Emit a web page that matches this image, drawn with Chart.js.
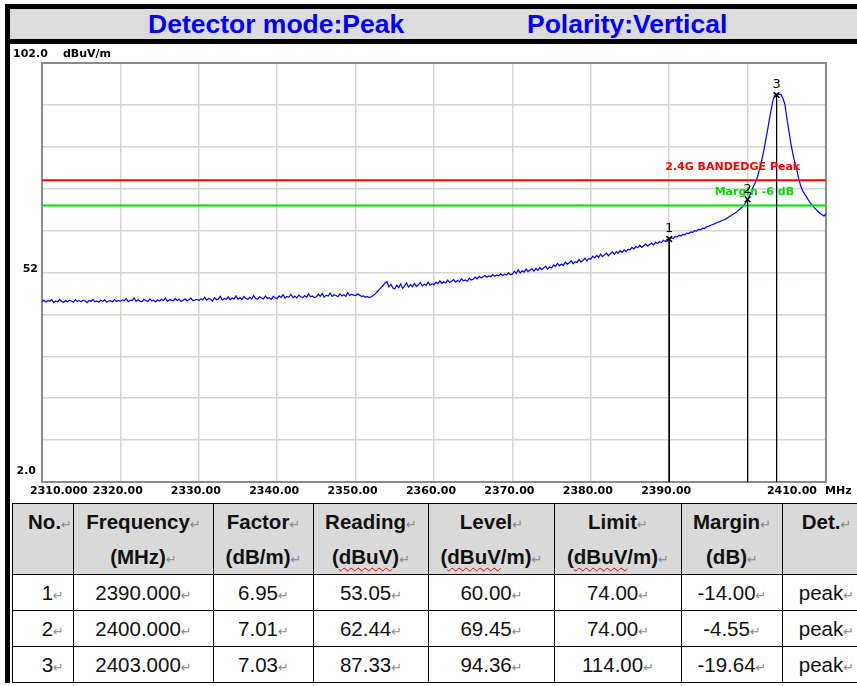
<!DOCTYPE html>
<html>
<head>
<meta charset="utf-8">
<script src="https://cdn.jsdelivr.net/npm/chart.js@4.4.1/dist/chart.umd.min.js"></script>
<style>
  html, body { margin: 0; padding: 0; background: #fff; }
  body { width: 857px; height: 686px; overflow: hidden; position: relative; font-family: "Liberation Sans", Arial, sans-serif; }
  #frameTop { position: absolute; left: 5px; top: 4px; width: 852px; height: 40px; background: #000; }
  #frameLeft { position: absolute; left: 5px; top: 4px; width: 5px; height: 679px; background: #000; }
  #header { position: absolute; left: 10px; top: 9px; width: 847px; height: 30px; background: #dcdcdc; }
  .title { position: absolute; top: 9px; line-height: 30px; font-size: 26.5px; font-weight: bold; color: #0000ff; white-space: nowrap; }
  #scan { position: absolute; left: 10px; top: 44px; }
  #results { position: absolute; left: 12px; top: 503px; border-collapse: collapse; table-layout: fixed; width: 858px; color: #111; font-size: 20.5px; }
  #results th, #results td { border: 1px solid #000; padding: 0; text-align: center; white-space: nowrap; overflow: hidden; }
  #results th { background: #d9d9d9; vertical-align: top; line-height: 35px; height: 71px; box-sizing: border-box; }
  #results td { height: 36px; line-height: 34px; vertical-align: middle; box-sizing: border-box; }
  #results .no { text-align: right; }
  #results th.no { padding-right: 1px; }
  #results td.no { padding-right: 9px; }
  .rt { font-family: "DejaVu Sans", sans-serif; font-size: 13px; line-height: 1; font-weight: normal; color: #8a8a8a; }
  .sq { text-decoration: underline wavy #e00000; text-decoration-thickness: 1px; text-underline-offset: 3px; }
</style>
</head>
<body>
<div id="frameTop"></div>
<div id="frameLeft"></div>
<div id="header"></div>
<div class="title" style="left:148px">Detector mode:Peak</div>
<div class="title" style="left:527px">Polarity:Vertical</div>
<canvas id="scan" width="847" height="458"></canvas>
<table id="results">
  <colgroup>
    <col style="width:61px"><col style="width:140px"><col style="width:100px"><col style="width:115px">
    <col style="width:126px"><col style="width:127px"><col style="width:101px"><col style="width:88px">
  </colgroup>
  <thead>
    <tr>
      <th class="no">No.<span class="rt">↵</span></th>
      <th>Frequency<span class="rt">↵</span><br>(MHz)<span class="rt">↵</span></th>
      <th>Factor<span class="rt">↵</span><br>(dB/m)<span class="rt">↵</span></th>
      <th>Reading<span class="rt">↵</span><br>(<span class="sq">dBuV</span>)<span class="rt">↵</span></th>
      <th>Level<span class="rt">↵</span><br>(<span class="sq">dBuV</span>/m)<span class="rt">↵</span></th>
      <th>Limit<span class="rt">↵</span><br>(<span class="sq">dBuV</span>/m)<span class="rt">↵</span></th>
      <th>Margin<span class="rt">↵</span><br>(dB)<span class="rt">↵</span></th>
      <th>Det.<span class="rt">↵</span></th>
    </tr>
  </thead>
  <tbody></tbody>
</table>
<script>
// Spectrum scan, 2310 - 2410 MHz, 0.25 MHz sweep points
const sweepStartMHz = 2310;
const sweepStepMHz = 0.25;
const traceLevels = [
  45.0, 45.4, 44.9, 45.3, 45.1, 45.5, 44.8, 45.2, 45.0, 45.6, 45.1, 44.9, 45.3, 45.0, 45.4, 45.2, 44.9, 45.5, 45.1, 45.3,
  45.0, 45.4, 45.2, 44.8, 45.3, 45.1, 45.6, 45.0, 45.2, 44.9, 45.4, 45.1, 45.5, 44.9, 45.2, 45.3, 45.0, 45.6, 45.1, 45.3,
  45.1, 45.5, 45.2, 45.8, 45.0, 45.4, 45.3, 45.9, 45.1, 45.5, 45.2, 45.0, 45.6, 45.3, 45.1, 45.7, 45.2, 45.4, 45.0, 45.5,
  45.2, 45.6, 45.3, 45.9, 45.1, 45.5, 45.4, 45.2, 45.8, 45.3, 45.6, 45.1, 45.4, 45.7, 45.2, 45.5, 45.9, 45.3, 45.4, 45.6,
  45.3, 45.7, 45.5, 46.1, 45.4, 45.8, 45.6, 45.2, 46.0, 45.5, 45.7, 46.3, 45.4, 45.8, 45.6, 46.2, 45.5, 45.9, 45.7, 46.4,
  45.6, 46.0, 45.5, 46.3, 45.8, 45.6, 46.1, 45.7, 46.5, 45.8, 45.6, 46.2, 45.9, 45.7, 46.4, 45.8, 46.0, 45.6, 46.3, 45.9,
  45.8, 46.4, 46.0, 46.7, 45.9, 46.3, 46.1, 46.8, 46.0, 46.4, 45.9, 46.6, 46.2, 46.0, 46.5, 46.1, 46.9, 46.2, 46.4, 46.0,
  46.2, 46.8, 46.3, 47.0, 46.1, 46.6, 46.4, 47.1, 46.3, 46.7, 46.5, 46.2, 46.9, 46.4, 46.7, 46.3, 47.2, 46.5, 46.8, 46.6,
  46.5, 46.9, 46.6, 46.3, 46.4, 46.1, 46.3, 46.0, 46.2, 46.5, 46.9, 47.4, 47.9, 48.4, 48.9, 49.5, 49.8, 48.6, 49.2, 48.3,
  48.1, 49.0, 48.4, 49.3, 48.2, 48.8, 49.5, 48.5, 49.1, 48.6, 49.4, 48.7, 49.0, 49.6, 48.8, 49.2, 48.9, 49.7, 49.0, 49.3,
  49.1, 49.7, 49.3, 50.0, 49.4, 49.8, 49.5, 50.2, 49.6, 49.9, 50.3, 49.7, 50.1, 49.8, 50.5, 50.0, 50.2, 49.9, 50.6, 50.2,
  50.4, 50.9, 50.5, 51.1, 50.7, 51.0, 51.3, 50.8, 51.2, 51.0, 51.5, 51.1, 51.4, 51.2, 51.7, 51.3, 51.6, 51.4, 51.9, 51.5,
  51.6, 52.3, 51.8, 52.6, 51.9, 52.4, 52.1, 52.8, 52.2, 52.6, 52.9, 52.3, 53.0, 52.5, 53.2, 52.7, 53.1, 53.5, 52.8, 53.3,
  53.1, 53.8, 53.4, 54.2, 53.6, 54.0, 53.7, 54.5, 54.0, 54.3, 54.8, 54.1, 54.6, 54.4, 55.1, 54.5, 54.9, 55.4, 54.8, 55.3,
  55.2, 55.9, 55.5, 56.1, 55.6, 56.4, 55.8, 56.2, 56.6, 56.0, 56.5, 56.9, 56.3, 57.0, 56.6, 57.2, 56.8, 57.4, 57.0, 57.5,
  57.4, 58.0, 57.6, 58.2, 57.9, 58.5, 58.0, 58.4, 58.8, 58.3, 58.7, 59.0, 58.6, 59.2, 58.9, 59.4, 59.1, 59.7, 59.4, 59.9,
  60.0, 60.3, 60.1, 60.6, 60.5, 60.9, 60.7, 61.1, 61.0, 61.4, 61.3, 61.7, 61.6, 62.0, 61.9, 62.3, 62.2, 62.6, 62.5, 62.9,
  63.0, 63.2, 63.4, 63.6, 63.8, 64.0, 64.2, 64.4, 64.6, 64.8, 65.1, 65.4, 65.7, 66.0, 66.3, 66.7, 67.1, 67.5, 68.0, 68.6,
  69.4, 70.3, 71.4, 72.6, 73.5, 74.8, 76.5, 78.4, 80.5, 83.0, 85.5, 88.2, 90.8, 93.2, 94.3, 94.6, 94.5, 94.5, 93.6, 92.2,
  89.0, 86.0, 83.0, 80.5, 78.4, 76.8, 74.5, 72.8, 71.6, 70.8, 70.1, 69.3, 68.6, 68.0, 67.5, 67.0, 66.5, 66.1, 65.8, 65.5,
  66.0
];

const limitLevel = 74;
const marginLevel = 68;
const limitText = '2.4G BANDEDGE Peak';
const marginText = 'Margin -6 dB';

// markers as placed on the plot
const markerNos = ['1', '2', '3'];
const markerFreqs = [2390.0, 2400.0, 2403.7];
const markerLevels = [60.00, 69.45, 94.36];

const xTickValues = [2310, 2320, 2330, 2340, 2350, 2360, 2370, 2380, 2390, 2400, 2410];
const xTickLabels = ['2310.000', '2320.00', '2330.00', '2340.00', '2350.00', '2360.00', '2370.00', '2380.00', '2390.00', '', '2410.00'];
const xUnit = 'MHz';
const yTickValues = [102, 52, 2];
const yTickLabels = ['102.0', '52', '2.0'];
const yUnit = 'dBuV/m';

// result table
const tableFreqs = ['2390.000', '2400.000', '2403.000'];
const tableFactors = ['6.95', '7.01', '7.03'];
const tableReadings = ['53.05', '62.44', '87.33'];
const tableLevels = ['60.00', '69.45', '94.36'];
const tableLimits = ['74.00', '74.00', '114.00'];
const tableMargins = ['-14.00', '-4.55', '-19.64'];
const tableDets = ['peak', 'peak', 'peak'];

const LABEL_FONT = 'bold 11px "DejaVu Sans", sans-serif';

const overlayPlugin = {
  id: 'overlay',
  beforeDatasetsDraw(chart) {
    const { ctx, chartArea: a } = chart;
    ctx.save();
    ctx.strokeStyle = '#8a8a8a';
    ctx.lineWidth = 2;
    ctx.strokeRect(a.left, a.top, a.right - a.left, a.bottom - a.top);
    ctx.restore();
  },
  afterDraw(chart) {
    const { ctx, chartArea: a, scales: { x, y } } = chart;
    ctx.save();
    ctx.fillStyle = '#000';
    ctx.font = LABEL_FONT;
    ctx.textBaseline = 'middle';

    // y labels
    yTickValues.forEach((v, i) => {
      const py = y.getPixelForValue(v);
      if (i === 0) {
        ctx.textAlign = 'left';
        ctx.fillText(yTickLabels[i], 3, py - 9);
        ctx.fillText(yUnit, 53, py - 9);
      } else {
        ctx.textAlign = 'right';
        const last = i === yTickValues.length - 1;
        ctx.fillText(yTickLabels[i], a.left - (last ? 6 : 4), py - (last ? 11 : 3));
      }
    });

    // x labels
    ctx.textAlign = 'left';
    const ly = a.bottom + 9;
    let prevRight = -Infinity;
    xTickValues.forEach((v, i) => {
      const t = xTickLabels[i];
      if (!t) return;
      const px = x.getPixelForValue(v);
      const w = ctx.measureText(t).width;
      let lx;
      if (i === 0) lx = px - 12;
      else if (i === xTickValues.length - 1) lx = px - 9 - w;
      else lx = Math.max(px - 3 - w / 2, prevRight + 5);
      ctx.fillText(t, lx, ly);
      prevRight = lx + w;
    });
    ctx.fillText(xUnit, a.right - 1, ly);

    // limit line captions
    ctx.fillStyle = '#ff0000';
    ctx.fillText(limitText, x.getPixelForValue(2389.5), y.getPixelForValue(limitLevel) - 13);
    ctx.fillStyle = '#00dd00';
    ctx.fillText(marginText, x.getPixelForValue(2395.8), y.getPixelForValue(marginLevel) - 13);

    // marker numbers
    ctx.fillStyle = '#000';
    ctx.font = '13px "DejaVu Sans", sans-serif';
    ctx.textAlign = 'center';
    markerNos.forEach((n, i) => {
      ctx.fillText(n, x.getPixelForValue(markerFreqs[i]), y.getPixelForValue(markerLevels[i]) - 10);
    });
    ctx.restore();
  }
};

function buildChart() {
  const trace = traceLevels.map((v, i) => ({ x: sweepStartMHz + i * sweepStepMHz, y: v }));
  const stems = markerFreqs.map((f, i) => ({
    data: [{ x: f, y: markerLevels[i] }, { x: f, y: 2 }],
    borderColor: '#000', borderWidth: 1, pointRadius: 0
  }));
  const gridStyle = { color: '#d8d5ce', lineWidth: 1.5, drawTicks: false };

  new Chart(document.getElementById('scan'), {
    type: 'line',
    data: {
      datasets: [
        {
          data: markerFreqs.map((f, i) => ({ x: f, y: markerLevels[i] })),
          showLine: false, pointStyle: 'crossRot', pointRadius: 4,
          pointBorderColor: '#000', pointBorderWidth: 1.5
        },
        ...stems,
        { data: [{ x: 2310, y: limitLevel }, { x: 2410, y: limitLevel }], borderColor: '#ff0000', borderWidth: 2, pointRadius: 0 },
        { data: [{ x: 2310, y: marginLevel }, { x: 2410, y: marginLevel }], borderColor: '#00e000', borderWidth: 2, pointRadius: 0 },
        { data: trace, borderColor: '#0000ff', borderWidth: 1.2, pointRadius: 0, tension: 0 }
      ]
    },
    options: {
      responsive: false,
      animation: false,
      devicePixelRatio: 1,
      layout: { padding: { left: 32, top: 19, right: 31, bottom: 20 } },
      plugins: { legend: { display: false }, tooltip: { enabled: false } },
      scales: {
        x: {
          type: 'linear', min: 2310, max: 2410,
          afterFit(s) { s.height = 0; },
          ticks: { display: false, stepSize: 10 },
          grid: gridStyle,
          border: { display: false }
        },
        y: {
          type: 'linear', min: 2, max: 102,
          afterFit(s) { s.width = 0; },
          ticks: { display: false, stepSize: 10 },
          grid: gridStyle,
          border: { display: false }
        }
      }
    },
    plugins: [overlayPlugin]
  });
}

function buildTable() {
  const rt = '<span class="rt">↵</span>';
  const tbody = document.querySelector('#results tbody');
  tableFreqs.forEach((f, i) => {
    const row = document.createElement('tr');
    row.innerHTML = `
      <td class="no">${markerNos[i]}${rt}</td>
      <td>${f}${rt}</td>
      <td>${tableFactors[i]}${rt}</td>
      <td>${tableReadings[i]}${rt}</td>
      <td>${tableLevels[i]}${rt}</td>
      <td>${tableLimits[i]}${rt}</td>
      <td>${tableMargins[i]}${rt}</td>
      <td>${tableDets[i]}${rt}</td>
    `;
    tbody.appendChild(row);
  });
}

buildTable();
buildChart();
</script>
</body>
</html>
